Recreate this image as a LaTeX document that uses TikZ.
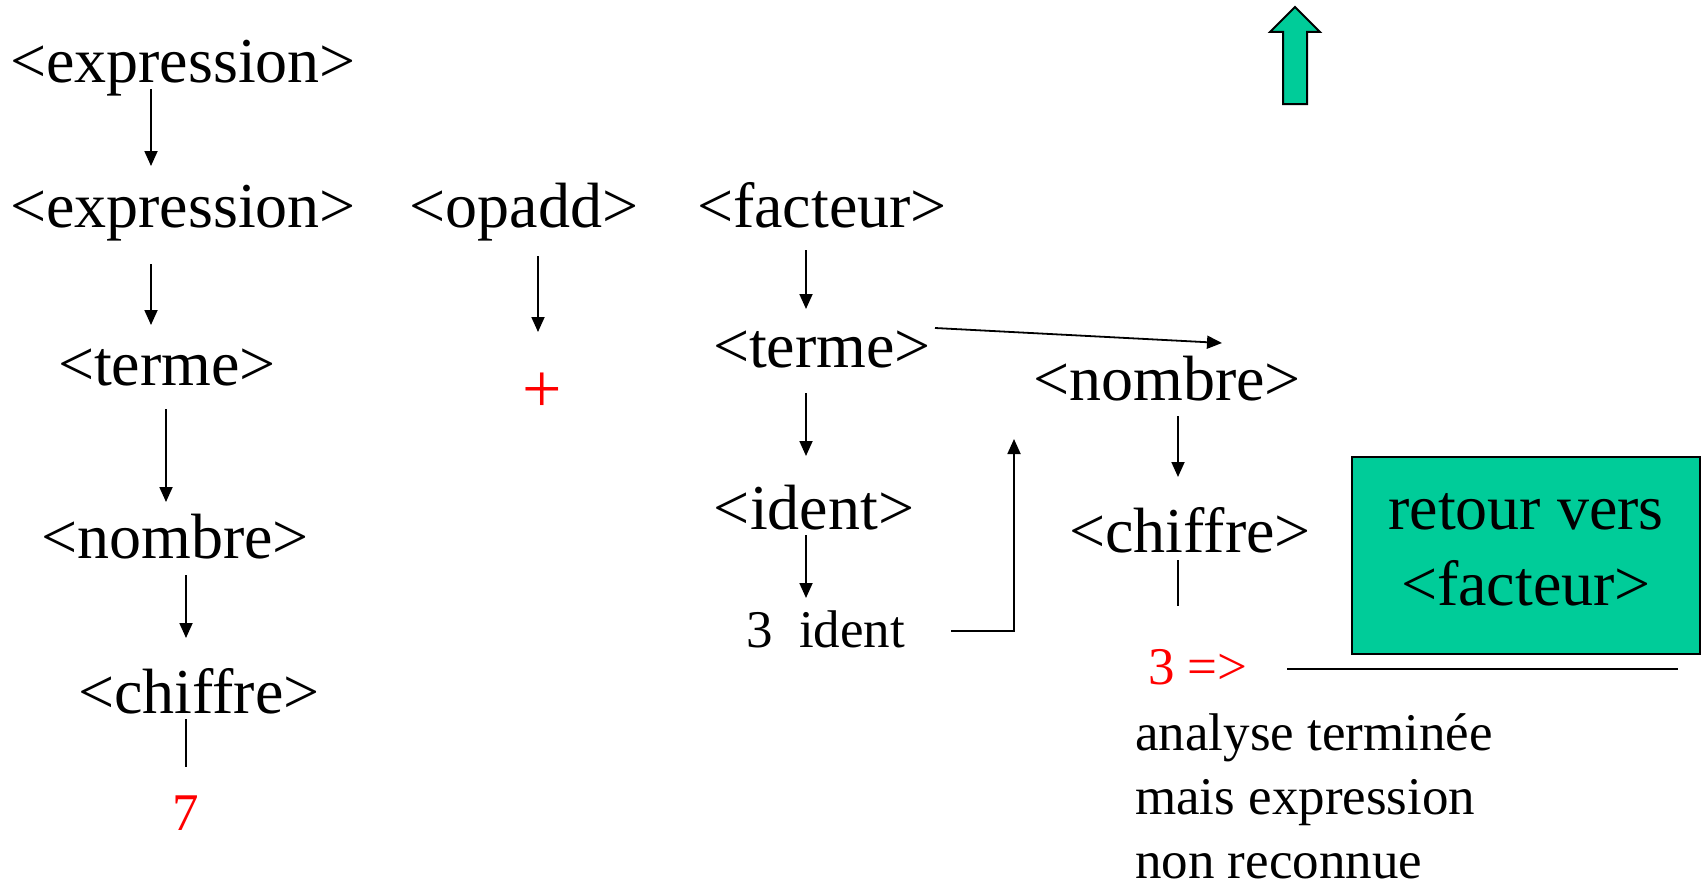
\documentclass[tikz,border=0pt]{standalone}
\usepackage{fontspec}
\setmainfont{Liberation Serif}
\usetikzlibrary{arrows.meta}
\definecolor{tgreen}{RGB}{0,204,153}
\definecolor{tred}{RGB}{255,0,0}
\begin{document}
\begin{tikzpicture}[x=1pt,y=-1pt,
  big/.style={font=\fontsize{64}{76}\selectfont, inner sep=0pt, anchor=base},
  small/.style={font=\fontsize{53}{64}\selectfont, inner sep=0pt, anchor=base west},
  arr/.style={-{Triangle[length=15pt,width=13pt]}, line width=1.8pt},
  ln/.style={line width=1.8pt}]
\useasboundingbox (0,0) rectangle (1701,883);
% nodes
\node[big] (expr1) at (183,82) {<expression>};
\node[big] (expr2) at (183,227) {<expression>};
\node[big] (opadd) at (524,227) {<opadd>};
\node[big] (facteur) at (822,227) {<facteur>};
\node[big] (termeL) at (167,385) {<terme>};
\node[big] (termeR) at (822,367) {<terme>};
\node[big] (nombreR) at (1167,400) {<nombre>};
\node[big] (chiffreR) at (1190,552) {<chiffre>};
\node[big] (ident) at (814,529) {<ident>};
\node[big] (nombreL) at (175,558) {<nombre>};
\node[big] (chiffreL) at (199,713) {<chiffre>};
\node[small, anchor=base, text=tred] (seven) at (186,830) {7};
\node[font=\fontsize{70}{80}\selectfont, inner sep=0pt, text=tred] (plus) at (542,393) {+};
\node[small] (ident3) at (746,647) {3~~ident};
\node[small, text=tred] (three) at (1148,684) {3 =>};
\node[small, align=left, anchor=north west] (analyse) at (1135,713) {analyse terminée\\mais expression\\non reconnue};
\node[draw=black, fill=tgreen, line width=2pt, minimum width=348pt, minimum height=197pt,
      font=\fontsize{64}{76}\selectfont, align=center, inner sep=0pt] (retour) at (1526,555)
      {retour vers\\<facteur>\\[-64pt]\mbox{}};
% green up arrow
\draw[fill=tgreen, line width=2pt] (1295,7) -- (1320,32) -- (1307,32) -- (1307,104)
  -- (1283,104) -- (1283,32) -- (1270,32) -- cycle;
% connector end points
\coordinate (a1s) at (151,89);   \coordinate (a1e) at (151,166);
\coordinate (a2s) at (151,264);  \coordinate (a2e) at (151,325);
\coordinate (a3s) at (538,256);  \coordinate (a3e) at (538,332);
\coordinate (a4s) at (806,250);  \coordinate (a4e) at (806,309);
\coordinate (a5s) at (166,409);  \coordinate (a5e) at (166,502);
\coordinate (a6s) at (806,393);  \coordinate (a6e) at (806,456);
\coordinate (a7s) at (935,328);  \coordinate (a7e) at (1222,343);
\coordinate (a8s) at (1178,416); \coordinate (a8e) at (1178,477);
\coordinate (a9s) at (806,535);  \coordinate (a9e) at (806,598);
\coordinate (a10s) at (186,575); \coordinate (a10e) at (186,638);
\coordinate (l1s) at (186,719);  \coordinate (l1e) at (186,767);
\coordinate (l2s) at (1178,560); \coordinate (l2e) at (1178,606);
\coordinate (r1s) at (951,631);  \coordinate (r1c) at (1014,631); \coordinate (r1e) at (1014,439);
\coordinate (h1s) at (1287,669); \coordinate (h1e) at (1678,669);
% connectors
\draw[arr] (a1s) -- (a1e);
\draw[arr] (a2s) -- (a2e);
\draw[arr] (a3s) -- (a3e);
\draw[arr] (a4s) -- (a4e);
\draw[arr] (a5s) -- (a5e);
\draw[arr] (a6s) -- (a6e);
\draw[arr] (a7s) -- (a7e);
\draw[arr] (a8s) -- (a8e);
\draw[arr] (a9s) -- (a9e);
\draw[arr] (a10s) -- (a10e);
\draw[ln] (l1s) -- (l1e);
\draw[ln] (l2s) -- (l2e);
\draw[arr] (r1s) -- (r1c) -- (r1e);
\draw[ln] (h1s) -- (h1e);
\end{tikzpicture}
\end{document}
